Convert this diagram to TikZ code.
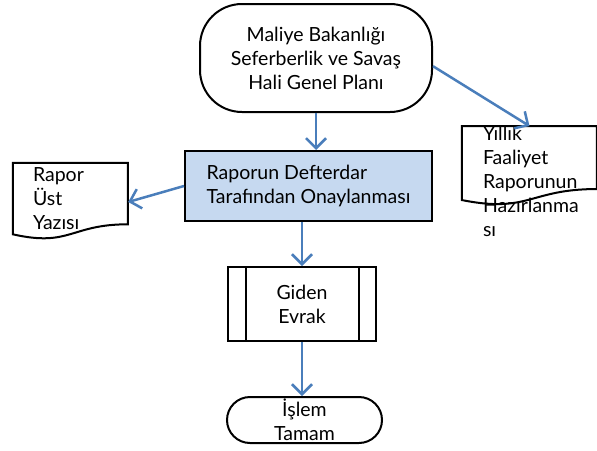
\documentclass[tikz,border=0pt]{standalone}
\usepackage{fontspec}
\setmainfont{Lato}
\usetikzlibrary{arrows.meta}
\definecolor{arrowblue}{RGB}{74,126,187}
\definecolor{boxblue}{RGB}{198,217,240}
\tikzstyle{arrow} = [line width=2.5pt,draw=arrowblue,-{Straight Barb[length=10pt,width=20pt]}]
\tikzstyle{term} = [rectangle, draw, line width=2pt, align=center, inner sep=0pt]
\tikzstyle{docnode} = [rectangle, inner sep=0pt, align=left]

\begin{document}
\begin{tikzpicture}[x=1pt,y=-1pt,font=\fontsize{19.5}{24}\selectfont]
\useasboundingbox (0,0) rectangle (597,450);

\node [term, rounded corners=42pt, minimum width=232pt, minimum height=108pt] (plan) at (316,58) {Maliye Bakanlığı\\Seferberlik ve Savaş\\Hali Genel Planı};
\node [rectangle, draw, line width=2pt, fill=boxblue, minimum width=247pt, minimum height=70pt, align=left] (onay) at (308.5,186) {Raporun Defterdar\\Tarafından Onaylanması};
\node [docnode, minimum width=115pt, minimum height=77pt, text width=75pt] (ust) at (70.5,199) {Rapor\\Üst\\Yazısı};
\node [docnode, minimum width=135pt, minimum height=79pt, text width=93pt] (yillik) at (529.5,181.5) {Yıllık\\Faaliyet\\Raporunun\\Hazırlanma\\sı};
\node [rectangle, draw, line width=2pt, minimum width=148pt, minimum height=74pt, align=center] (giden) at (302,304) {Giden\\Evrak};
\node [term, rounded corners=23pt, minimum width=155pt, minimum height=46pt] (islem) at (304.5,420) {İşlem\\Tamam};

% document outlines
\draw [line width=2pt, shift={(ust.north west)}] (0,2.5) -- (115,2.5) -- (115,64) .. controls (57.5,64) and (57.5,87) .. (0,74) -- cycle;
\draw [line width=2pt, shift={(yillik.north west)}] (0,0) -- (135,0) -- (135,63) .. controls (67.5,63) and (67.5,87.5) .. (0,74) -- cycle;

% side bars
\draw [line width=2pt] ([xshift=19pt]giden.north west) -- ([xshift=19pt]giden.south west);
\draw [line width=2pt] ([xshift=-18pt]giden.north east) -- ([xshift=-18pt]giden.south east);

\draw [arrow] (plan.south) -- (plan.south |- onay.north);
\draw [arrow] (plan.-4) -- (yillik.north);
\draw [arrow] (onay.west) -- ([yshift=-3pt]ust.east);
\draw [arrow] (onay.south -| giden.north) -- (giden.north);
\draw [arrow] (giden.south) -- (giden.south |- islem.north);
\end{tikzpicture}
\end{document}
